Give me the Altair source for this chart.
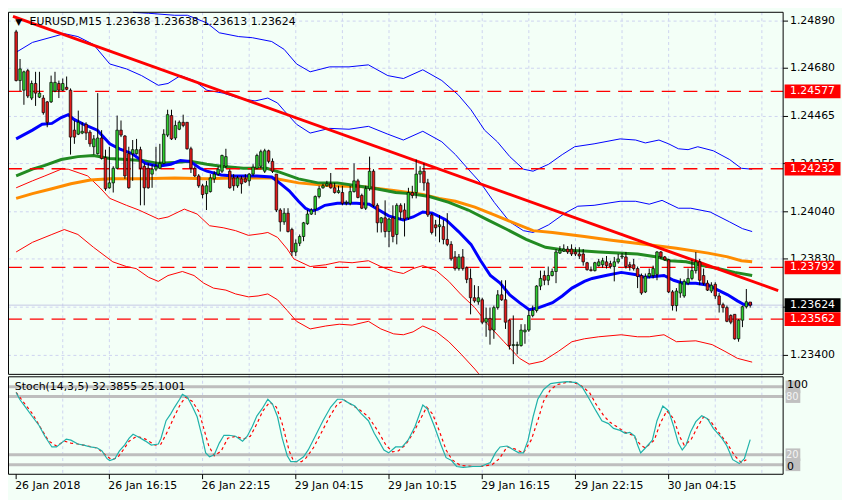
import altair as alt
import pandas as pd

# ---------------- candles (EURUSD M15) ----------------
opens = [
1.24842,1.24625,1.24582,1.24669,1.24547,1.24612,1.24551,1.24547,1.24530,1.24530,
1.24578,1.24612,1.24582,1.24595,1.24582,1.24404,1.24386,1.24391,1.24430,1.24395,
1.24330,1.24299,1.24369,1.24282,1.24147,1.24169,1.24234,1.24404,1.24378,1.24299,
1.24299,1.24299,1.24317,1.24243,1.24234,1.24208,1.24230,1.24234,1.24256,1.24382,
1.24469,1.24369,1.24408,1.24439,1.24439,1.24321,1.24234,1.24200,1.24156,1.24121,
1.24130,1.24187,1.24208,1.24221,1.24243,1.24221,1.24191,1.24156,1.24187,1.24187,
1.24178,1.24208,1.24234,1.24243,1.24221,1.24312,1.24265,1.24208,1.24048,1.23995,
1.24034,1.23961,1.23861,1.23900,1.23930,1.23987,1.24030,1.24052,1.24108,1.24147,
1.24156,1.24165,1.24147,1.24126,1.24126,1.24078,1.24078,1.24130,1.24178,1.24113,
1.24056,1.24143,1.24221,1.24069,1.23991,1.24013,1.23952,1.24013,1.23939,1.24069,
1.24048,1.24013,1.24126,1.24126,1.24208,1.24221,1.24169,1.24026,1.23982,1.23974,
1.23974,1.23917,1.23895,1.23839,1.23787,1.23839,1.23791,1.23743,1.23657,1.23639,
1.23648,1.23548,1.23565,1.23513,1.23613,1.23670,1.23648,1.23557,1.23444,1.23444,
1.23444,1.23505,1.23513,1.23578,1.23600,1.23709,1.23756,1.23735,1.23756,1.23774,
1.23856,1.23865,1.23874,1.23874,1.23861,1.23852,1.23852,1.23813,1.23782,1.23778,
1.23800,1.23804,1.23817,1.23809,1.23796,1.23817,1.23839,1.23839,1.23804,1.23804,
1.23787,1.23756,1.23683,1.23752,1.23756,1.23761,1.23861,1.23839,1.23826,1.23683,
1.23622,1.23678,1.23665,1.23722,1.23743,1.23778,1.23817,1.23756,1.23722,1.23687,
1.23717,1.23665,1.23626,1.23613,1.23578,1.23583,1.23474,1.23557,1.23617,1.23638]
highs = [
1.24851,1.24721,1.24669,1.24677,1.24625,1.24664,1.24664,1.24560,1.24534,1.24647,
1.24664,1.24625,1.24634,1.24643,1.24590,1.24447,1.24491,1.24439,1.24439,1.24404,
1.24382,1.24569,1.24404,1.24317,1.24330,1.24243,1.24469,1.24447,1.24382,1.24330,
1.24360,1.24365,1.24330,1.24256,1.24256,1.24252,1.24330,1.24343,1.24408,1.24495,
1.24495,1.24447,1.24447,1.24473,1.24439,1.24330,1.24243,1.24208,1.24165,1.24178,
1.24208,1.24221,1.24243,1.24295,1.24321,1.24230,1.24208,1.24200,1.24200,1.24208,
1.24213,1.24252,1.24299,1.24317,1.24321,1.24317,1.24278,1.24208,1.24056,1.24056,
1.24056,1.23969,1.23917,1.23939,1.23995,1.24048,1.24056,1.24113,1.24156,1.24165,
1.24178,1.24213,1.24169,1.24156,1.24156,1.24091,1.24156,1.24256,1.24187,1.24121,
1.24156,1.24286,1.24230,1.24078,1.24017,1.24091,1.24013,1.24069,1.24078,1.24078,
1.24078,1.24147,1.24156,1.24273,1.24243,1.24256,1.24187,1.24034,1.24004,1.24026,
1.24004,1.24034,1.23909,1.23865,1.23852,1.23874,1.23796,1.23787,1.23713,1.23709,
1.23657,1.23613,1.23613,1.23622,1.23691,1.23735,1.23735,1.23561,1.23578,1.23461,
1.23539,1.23539,1.23604,1.23622,1.23713,1.23778,1.23778,1.23796,1.23787,1.23874,
1.23887,1.23895,1.23887,1.23895,1.23882,1.23882,1.23874,1.23817,1.23796,1.23817,
1.23830,1.23835,1.23843,1.23822,1.23839,1.23852,1.23856,1.23861,1.23817,1.23830,
1.23796,1.23765,1.23765,1.23787,1.23800,1.23865,1.23865,1.23843,1.23830,1.23691,
1.23700,1.23743,1.23739,1.23787,1.23826,1.23861,1.23830,1.23787,1.23735,1.23726,
1.23726,1.23678,1.23635,1.23622,1.23583,1.23583,1.23561,1.23622,1.23696,1.23638]
lows = [
1.24621,1.24578,1.24517,1.24547,1.24538,1.24512,1.24547,1.24473,1.24417,1.24525,
1.24573,1.24547,1.24578,1.24582,1.24295,1.24343,1.24382,1.24386,1.24360,1.24330,
1.24295,1.24295,1.24273,1.24134,1.24143,1.24126,1.24230,1.24373,1.24187,1.24143,
1.24178,1.24295,1.24069,1.24069,1.24143,1.24147,1.24221,1.24230,1.24252,1.24373,
1.24360,1.24360,1.24404,1.24417,1.24317,1.24213,1.24195,1.24147,1.24100,1.24048,
1.24126,1.24169,1.24200,1.24213,1.24234,1.24143,1.24134,1.24147,1.24121,1.24169,
1.24156,1.24200,1.24230,1.24234,1.24213,1.24256,1.24213,1.24039,1.23952,1.23982,
1.23948,1.23843,1.23843,1.23887,1.23909,1.23982,1.24026,1.24026,1.24100,1.24143,
1.24152,1.24143,1.24121,1.24121,1.24069,1.24069,1.24069,1.24126,1.24100,1.24052,
1.24048,1.24134,1.24061,1.23948,1.23948,1.23926,1.23882,1.23904,1.23895,1.24004,
1.23930,1.24004,1.24100,1.24100,1.24169,1.24134,1.24017,1.23939,1.23930,1.23904,
1.23895,1.23887,1.23822,1.23778,1.23778,1.23778,1.23722,1.23583,1.23635,1.23626,
1.23539,1.23483,1.23448,1.23474,1.23604,1.23643,1.23518,1.23426,1.23361,1.23405,
1.23439,1.23452,1.23505,1.23570,1.23591,1.23691,1.23713,1.23713,1.23752,1.23722,
1.23852,1.23861,1.23852,1.23843,1.23843,1.23830,1.23800,1.23778,1.23774,1.23774,
1.23796,1.23791,1.23787,1.23787,1.23730,1.23809,1.23830,1.23787,1.23778,1.23778,
1.23700,1.23670,1.23678,1.23743,1.23743,1.23735,1.23830,1.23822,1.23678,1.23600,
1.23596,1.23657,1.23657,1.23713,1.23735,1.23765,1.23713,1.23713,1.23687,1.23678,
1.23652,1.23591,1.23591,1.23548,1.23539,1.23470,1.23461,1.23526,1.23609,1.23613]
closes = [
1.24625,1.24677,1.24664,1.24556,1.24612,1.24569,1.24569,1.24482,1.24439,1.24617,
1.24617,1.24582,1.24612,1.24586,1.24373,1.24373,1.24439,1.24399,1.24391,1.24343,
1.24365,1.24369,1.24278,1.24143,1.24169,1.24234,1.24404,1.24382,1.24200,1.24147,
1.24317,1.24317,1.24234,1.24147,1.24147,1.24230,1.24243,1.24256,1.24386,1.24473,
1.24365,1.24425,1.24439,1.24425,1.24321,1.24234,1.24200,1.24156,1.24117,1.24156,
1.24191,1.24208,1.24230,1.24291,1.24286,1.24147,1.24156,1.24191,1.24165,1.24173,
1.24208,1.24239,1.24291,1.24308,1.24312,1.24265,1.24221,1.24048,1.23995,1.24034,
1.23952,1.23861,1.23900,1.23930,1.23991,1.24030,1.24048,1.24108,1.24143,1.24156,
1.24165,1.24147,1.24126,1.24134,1.24078,1.24082,1.24130,1.24178,1.24104,1.24056,
1.24143,1.24221,1.24069,1.23991,1.24013,1.23952,1.24008,1.23930,1.24069,1.24039,
1.24008,1.24126,1.24113,1.24208,1.24221,1.24169,1.24026,1.23948,1.23969,1.23982,
1.23917,1.23895,1.23830,1.23787,1.23839,1.23787,1.23739,1.23657,1.23643,1.23657,
1.23548,1.23565,1.23513,1.23613,1.23670,1.23648,1.23548,1.23444,1.23448,1.23448,
1.23513,1.23513,1.23578,1.23600,1.23709,1.23743,1.23735,1.23756,1.23774,1.23861,
1.23869,1.23874,1.23861,1.23852,1.23852,1.23843,1.23817,1.23782,1.23778,1.23813,
1.23817,1.23822,1.23800,1.23796,1.23817,1.23830,1.23843,1.23796,1.23796,1.23787,
1.23752,1.23678,1.23752,1.23765,1.23787,1.23861,1.23839,1.23826,1.23683,1.23622,
1.23687,1.23722,1.23730,1.23743,1.23778,1.23817,1.23735,1.23722,1.23691,1.23713,
1.23665,1.23626,1.23613,1.23552,1.23548,1.23474,1.23557,1.23617,1.23639,1.23624]

# ---------------- indicator lines (bar index, price) ----------------
blue_i = [0,4.2,6.7,9.2,11.6,13.4,14.9,17.4,20.9,24.1,26.6,29.9,33.3,36.6,39.8,42.3,44.8,47.3,49.1,52.8,
          56.0,62.0,65.8,67.8,70.3,72.7,74.5,76.0,77.7,79.5,82.7,87.7,90.9,93.4,95.9,97.7,99.7,102.2,104.7,107.2,
          110.7,113.9,117.1,119.6,122.1,124.6,127.1,129.6,132.1,134.6,138.1,140.6,143.1,146.3,148.3,151.8,155.8,159.3,161.8,164.3,
          166.8,169.3,171.7,175.0,178.2,180.7,183.2,185.7,187.5,189.5]
blue_p = [1.24365,1.24404,1.24430,1.24434,1.24460,1.24473,1.24452,1.24430,1.24404,1.24343,1.24321,1.24299,1.24256,1.24243,1.24252,
          1.24269,1.24265,1.24234,1.24221,1.24204,1.24200,1.24200,1.24195,1.24169,1.24134,1.24087,1.24056,1.24043,1.24052,1.24069,
          1.24078,1.24078,1.24074,1.24048,1.24022,1.24013,1.24004,1.24017,1.24039,1.24034,1.24004,1.23952,1.23895,1.23822,1.23756,
          1.23722,1.23670,1.23635,1.23604,1.23613,1.23635,1.23665,1.23700,1.23730,1.23743,1.23756,1.23770,1.23761,1.23748,1.23752,
          1.23756,1.23735,1.23722,1.23722,1.23713,1.23691,1.23670,1.23643,1.23626,1.23630]
green_i = [0,4.2,7.4,11.6,15.9,19.9,24.1,28.4,32.4,36.6,40.8,44.8,49.1,52.8,58.5,64.5,67.8,72.7,77.7,82.7,
           87.7,92.7,97.7,101.4,106.4,111.4,116.4,121.4,126.4,131.3,136.3,141.3,146.3,150.0,155.0,160.0,165.0,168.3,172.5,176.7,
           180.7,185.0,189.5]
green_p = [1.24200,1.24230,1.24247,1.24273,1.24286,1.24291,1.24278,1.24273,1.24269,1.24256,1.24260,1.24265,1.24252,1.24243,1.24234,
           1.24234,1.24217,1.24187,1.24169,1.24169,1.24156,1.24143,1.24126,1.24121,1.24108,1.24082,1.24048,1.24004,1.23961,1.23917,
           1.23882,1.23869,1.23865,1.23861,1.23856,1.23852,1.23839,1.23822,1.23817,1.23800,1.23787,1.23770,1.23756]
orange_i = [0,4.2,9.2,14.1,19.1,24.1,32.3,40.8,49.1,56.0,66.0,72.7,80.9,89.4,97.7,104.7,108.9,113.1,118.1,123.1,
            128.1,133.1,138.1,146.3,153.3,161.8,170.0,178.2,183.2,186.7,189.5]
orange_p = [1.24100,1.24121,1.24143,1.24165,1.24182,1.24187,1.24187,1.24191,1.24187,1.24191,1.24191,1.24169,1.24156,1.24152,1.24134,
            1.24117,1.24100,1.24087,1.24061,1.24026,1.23991,1.23956,1.23948,1.23930,1.23913,1.23895,1.23878,1.23856,1.23839,1.23822,1.23817]
bandA_i = [0,4.2,12.4,15.9,19.9,24.1,28.4,32.3,36.6,39.1,42.3,45.8,49.1,53.3,57.3,61.5,64.8,67.3,69.0,72.2,
           75.7,80.7,85.7,90.7,95.7,99.7,104.7,109.6,113.1,116.4,119.6,123.1,127.1,130.6,133.1,137.1,141.3,144.6,148.8,155.5,
           159.5,163.0,166.3,170.5,173.7,178.7,183.7,187.0,189.5]
bandA_p = [1.24751,1.24795,1.24834,1.24821,1.24786,1.24699,1.24677,1.24647,1.24604,1.24612,1.24647,1.24625,1.24582,1.24569,1.24547,
           1.24534,1.24547,1.24525,1.24491,1.24430,1.24391,1.24412,1.24408,1.24421,1.24386,1.24360,1.24399,1.24352,1.24295,1.24230,
           1.24169,1.24082,1.23995,1.23956,1.23948,1.23982,1.24034,1.24065,1.24069,1.24087,1.24087,1.24074,1.24091,1.24056,1.24056,
           1.24039,1.23995,1.23965,1.23952]
bandB_i = [30.1,34.1,40.8,44.1,49.1,52.3,57.3,60.8,65.8,69.0,72.2,75.7,80.7,85.7,90.7,95.7,99.7,104.7,109.6,113.9,
           117.1,120.6,123.9,127.1,130.6,133.1,137.1,140.6,143.8,148.8,155.5,159.5,162.0,165.5,168.0,170.5,173.0,175.5,179.5,183.7,
           186.7,189.5]
bandB_p = [1.24929,1.24925,1.24916,1.24916,1.24882,1.24838,1.24821,1.24816,1.24799,1.24764,1.24699,1.24664,1.24686,1.24686,1.24695,
           1.24647,1.24634,1.24673,1.24625,1.24560,1.24495,1.24404,1.24352,1.24286,1.24230,1.24221,1.24252,1.24295,1.24330,1.24343,
           1.24365,1.24360,1.24347,1.24360,1.24343,1.24321,1.24317,1.24330,1.24312,1.24273,1.24234,1.24230]
bandC_i = [0,4.2,7.4,11.6,13.4,18.4,21.6,24.1,28.4,31.6,36.6,39.1,43.3,46.6,49.8,53.3,56.5,59.8,63.3,64.8,
           67.3,69.8,71.5,75.7,79.7,83.2,86.5,90.7,93.9,97.2,99.7,102.2,104.7,108.2,111.4,114.6,118.1,121.4,125.6,129.6,
           132.1,135.6,139.6,143.1,146.3,150.0,155.8,160.0,163.0,166.8,170.0,175.0,179.2,182.5,185.7,189.5]
bandC_p = [1.24147,1.24178,1.24200,1.24230,1.24230,1.24200,1.24147,1.24100,1.24069,1.24048,1.24008,1.24017,1.24052,1.24030,1.23978,
           1.23969,1.23956,1.23935,1.23943,1.23948,1.23926,1.23874,1.23830,1.23796,1.23804,1.23817,1.23813,1.23822,1.23796,1.23774,
           1.23765,1.23787,1.23800,1.23778,1.23730,1.23670,1.23613,1.23539,1.23461,1.23387,1.23361,1.23374,1.23418,1.23461,1.23474,
           1.23483,1.23492,1.23483,1.23483,1.23492,1.23461,1.23465,1.23448,1.23418,1.23387,1.23370]
bandD_i = [0,4.2,9.2,12.4,15.9,19.9,24.9,28.4,30.9,34.1,36.6,39.1,42.8,45.8,48.3,50.8,54.0,56.5,59.8,62.3,
           64.8,67.3,69.8,72.2,75.7,79.7,83.2,86.5,90.7,93.9,97.2,99.7,102.2,104.7,108.2,111.4,114.6,118.1,119.1]
bandD_p = [1.23861,1.23904,1.23939,1.23961,1.23939,1.23882,1.23817,1.23796,1.23787,1.23748,1.23730,1.23756,1.23774,1.23756,1.23722,
           1.23700,1.23691,1.23674,1.23661,1.23665,1.23674,1.23648,1.23600,1.23552,1.23518,1.23531,1.23539,1.23535,1.23552,1.23518,
           1.23496,1.23492,1.23505,1.23531,1.23505,1.23461,1.23405,1.23339,1.23318]
trend_i = [-0.82, 196.2]
trend_p = [1.24911, 1.23689]
level_prices = [1.24577, 1.24232, 1.23792, 1.23562]
bid_price = 1.23624

# ---------------- stochastic ----------------
k_i = [0,0.9,2.4,4.2,5.9,7.4,9.2,10.4,11.6,12.9,14.1,15.9,17.4,19.1,20.9,22.1,23.4,24.1,25.4,26.6,
       27.9,29.1,30.1,31.6,33.3,34.8,36.6,37.3,38.6,39.8,40.8,42.1,42.8,44.1,45.3,46.6,47.8,48.8,49.8,51.0,
       52.3,53.5,54.8,56.5,58.3,59.5,60.8,62.0,63.3,64.8,66.0,67.3,68.5,69.8,70.7,72.2,74.0,75.2,77.0,79.0,
       81.0,82.7,84.0,85.7,87.2,88.9,90.7,92.2,93.4,94.7,95.9,97.7,99.4,100.9,102.7,104.7,105.9,107.7,109.4,110.7,
       112.1,113.4,115.1,117.6,119.6,122.1,123.4,124.6,126.4,128.1,129.4,130.6,131.8,133.1,134.3,135.8,137.6,139.3,141.8,144.3,
       145.8,147.6,149.3,150.8,152.5,153.8,155.5,156.8,158.0,159.3,160.0,160.8,162.0,163.8,165.0,166.5,168.0,169.3,170.5,171.5,
       172.5,173.7,175.0,176.5,178.0,179.5,181.7,183.0,184.5,186.2,187.5,189.0]
k_v = [87.5,79.5,70.4,59.1,48.9,36.4,23.9,23.9,28.4,33.0,31.8,27.3,26.1,23.9,22.7,19.3,10.2,8.0,10.2,19.3,
       26.1,34.1,38.6,35.2,30.7,26.1,27.3,34.1,54.5,62.5,70.4,79.5,85.2,81.8,71.6,59.1,37.5,17.0,12.5,14.8,
       28.4,37.5,37.5,36.4,30.7,36.4,47.7,60.2,68.2,79.5,73.8,59.1,34.1,13.6,6.8,6.8,12.5,20.4,36.4,54.5,
       70.4,79.5,79.5,75.0,71.6,62.5,54.5,39.8,30.7,20.4,17.0,23.9,23.9,31.8,47.7,72.7,68.2,47.7,26.1,11.4,
       8.0,1.1,0.0,1.1,1.1,5.7,17.0,23.9,25.0,20.4,17.0,17.0,31.8,59.1,79.5,90.9,97.7,98.9,100.0,98.9,
       93.2,79.5,65.9,54.5,51.1,45.5,43.2,39.8,40.9,36.4,26.1,17.0,22.7,31.8,54.5,71.6,65.9,47.7,28.4,20.4,
       26.1,42.0,53.4,60.2,56.8,45.5,34.1,25.0,9.1,4.5,10.2,32.4]
d_i = [0,1.7,4.2,6.7,8.4,10.4,12.4,14.1,15.9,18.4,20.9,22.9,24.6,26.1,27.4,29.1,31.1,33.3,35.8,37.3,
       39.1,40.8,42.3,43.6,45.3,47.1,48.3,49.6,51.0,52.8,54.5,56.5,58.5,60.3,62.0,63.5,65.3,67.0,68.5,70.3,
       71.5,73.5,74.7,76.5,78.5,80.7,82.7,84.5,86.5,88.5,90.7,93.2,95.2,96.9,98.4,100.2,102.2,104.4,105.7,107.2,
       108.9,110.7,112.2,114.4,117.6,119.6,122.6,124.4,126.4,128.4,130.6,132.6,134.3,135.8,137.6,139.3,142.6,145.1,147.6,149.3,
       151.3,153.0,155.0,156.8,158.8,160.8,162.0,164.3,165.8,167.5,169.3,170.8,172.0,173.7,175.5,177.0,178.7,180.7,183.0,185.0,
       186.7,188.0]
d_v = [87.5,77.3,62.5,43.2,30.7,25.0,30.7,28.4,27.3,25.0,22.7,14.8,9.1,11.4,19.3,30.7,36.4,33.0,26.1,27.3,
       43.2,60.2,73.8,81.8,77.3,64.8,45.5,25.0,13.6,19.3,34.1,36.4,33.0,36.4,51.1,65.9,76.1,70.4,51.1,19.3,
       6.8,6.8,11.4,22.7,39.8,59.1,73.8,78.4,72.7,67.0,59.1,42.0,26.1,18.2,19.3,26.1,39.8,59.1,70.4,62.5,
       43.2,20.4,9.1,2.3,1.1,1.1,3.4,10.2,23.9,21.6,17.0,31.8,54.5,77.3,90.9,96.6,100.0,96.6,87.5,73.8,
       60.2,52.3,46.6,40.9,37.5,26.1,22.7,31.8,51.1,65.9,56.8,36.4,26.1,31.8,47.7,59.1,54.5,42.0,28.4,13.6,
       5.7,9.1]
stoch_levels = [94.0, 82.6, 14.8, 3.1]
stoch_level_text = ["", "80", "20", ""]
stoch_scale_vals = [96.0, 0.0]
stoch_scale_text = ["100", "0"]

# ---------------- axes text ----------------
price_ticks = [1.24890, 1.24680, 1.24465, 1.24255, 1.24040, 1.23830, 1.23615, 1.23400]
price_labels = ["1.24890", "1.24680", "1.24465", "1.24255", "1.24040", "1.23830", "", "1.23400"]
grid_idx = [12, 24, 36, 48, 60, 72, 84, 96, 108, 120, 132, 144, 156, 168, 180, 192]
time_idx = [0, 24, 48, 72, 96, 120, 144, 168]
time_text = ["26 Jan 2018", "26 Jan 16:15", "26 Jan 22:15", "29 Jan 04:15",
             "29 Jan 10:15", "29 Jan 16:15", "29 Jan 22:15", "30 Jan 04:15"]
title_text = "EURUSD,M15  1.23638 1.23638 1.23613 1.23624"
stoch_title = "Stoch(14,3,5) 32.3855 25.1001"

# ---------------- layout ----------------
W, H = 842, 492
SX, SY = W / 850, H / 500
def px(v): return v * SX
def py(v): return v * SY
XR = px(790)
FONT = "DejaVu Sans"
BG = "#F3FFF7"
GRID = "#CDD3F0"

xs = alt.Scale(domain=[-0.823, 196.2], range=[0, XR], nice=False, zero=False)
ys = alt.Scale(domain=[1.233133, 1.249293], range=[py(374), py(2)], nice=False, zero=False)
ss = alt.Scale(domain=[0, 100], range=[py(469), py(381)], nice=False, zero=False)

def X(f="i"):
    return alt.X(f, type="quantitative", scale=xs, axis=None)
def Y(f):
    return alt.Y(f, type="quantitative", scale=ys, axis=None)
def S(f):
    return alt.Y(f, type="quantitative", scale=ss, axis=None)

one = pd.DataFrame({"k": [0]})
layers = []

# grid
tick_df = pd.DataFrame({"p": price_ticks, "t": price_labels})
layers.append(alt.Chart(tick_df).mark_rule(color=GRID, strokeDash=[3, 3], strokeWidth=1)
              .encode(y=Y("p"), x=alt.value(0), x2=alt.value(XR)))
layers.append(alt.Chart(pd.DataFrame({"i": grid_idx})).mark_rule(color=GRID, strokeDash=[3, 3], strokeWidth=1)
              .encode(x=X(), y=alt.value(py(2)), y2=alt.value(py(476))))
# bid line
layers.append(alt.Chart(pd.DataFrame({"p": [bid_price]})).mark_rule(color="#C4C8E4", strokeWidth=1)
              .encode(y=Y("p"), x=alt.value(0), x2=alt.value(XR)))

def line(ii, pp, color, width, dash=None):
    n = min(len(ii), len(pp))
    df = pd.DataFrame({"i": ii[:n], "p": pp[:n]})
    kw = dict(color=color, strokeWidth=width)
    if dash:
        kw["strokeDash"] = dash
    return alt.Chart(df).mark_line(**kw).encode(x=X(), y=Y("p"))

layers += [
    line(bandA_i, bandA_p, "#0000FF", 1),
    line(bandB_i, bandB_p, "#0000FF", 1),
    line(bandC_i, bandC_p, "#FF0000", 1),
    line(bandD_i, bandD_p, "#FF0000", 1),
    line(orange_i, orange_p, "#FF8C00", 3),
    line(green_i, green_p, "#228B22", 3),
    line(blue_i, blue_p, "#0000FF", 3),
]
layers.append(alt.Chart(pd.DataFrame({"p": level_prices})).mark_rule(color="#FF0000", strokeWidth=1.3, strokeDash=[14, 8])
              .encode(y=Y("p"), x=alt.value(0), x2=alt.value(XR)))
layers.append(line(trend_i, trend_p, "#FF0000", 3))

# candles
n = min(len(opens), len(highs), len(lows), len(closes))
cdf = pd.DataFrame({"i": list(range(n)), "o": opens[:n], "h": highs[:n], "l": lows[:n], "c": closes[:n]})
cdf["dir"] = ["up" if c >= o else "dn" for o, c in zip(cdf["o"], cdf["c"])]
layers.append(alt.Chart(cdf).mark_rule(color="black", strokeWidth=1).encode(x=X(), y=Y("l"), y2="h"))
layers.append(alt.Chart(cdf).mark_bar(size=2.6, stroke="black", strokeWidth=0.7, orient="vertical")
              .encode(x=X(), y=Y("o"), y2="c",
                      color=alt.Color("dir:N", scale=alt.Scale(domain=["up", "dn"], range=["#2ECC2E", "#E31A1A"]), legend=None)))

# stochastic
lev_df = pd.DataFrame({"v": stoch_levels, "t": stoch_level_text})
layers.append(alt.Chart(lev_df).mark_rule(color="#BEBEBE", strokeWidth=3)
              .encode(y=S("v"), x=alt.value(0), x2=alt.value(XR)))
kdf = pd.DataFrame({"i": k_i[:min(len(k_i), len(k_v))], "v": k_v[:min(len(k_i), len(k_v))]})
ddf = pd.DataFrame({"i": d_i[:min(len(d_i), len(d_v))], "v": d_v[:min(len(d_i), len(d_v))]})
layers.append(alt.Chart(ddf).mark_line(color="#FF0000", strokeWidth=1.2, strokeDash=[3, 3]).encode(x=X(), y=S("v")))
layers.append(alt.Chart(kdf).mark_line(color="#20B2AA", strokeWidth=1.2).encode(x=X(), y=S("v")))

# frames
layers.append(alt.Chart(one).mark_rect(fill="transparent", stroke="black", strokeWidth=1)
              .encode(x=alt.value(0.5), x2=alt.value(XR), y=alt.value(py(2)), y2=alt.value(py(373.5))))
layers.append(alt.Chart(one).mark_rect(fill="transparent", stroke="black", strokeWidth=1)
              .encode(x=alt.value(0.5), x2=alt.value(XR), y=alt.value(py(376)), y2=alt.value(py(476))))

# right price axis
layers.append(alt.Chart(tick_df).mark_rule(color="black").encode(y=Y("p"), x=alt.value(XR), x2=alt.value(px(795))))
layers.append(alt.Chart(tick_df).mark_text(align="left", baseline="middle", font=FONT, fontSize=11, color="black")
              .encode(y=Y("p"), x=alt.value(px(797)), text="t:N"))
red_df = pd.DataFrame({"p": level_prices, "t": [f"{p:.5f}" for p in level_prices]})
bid_df = pd.DataFrame({"p": [bid_price], "t": [f"{bid_price:.5f}"]})
layers.append(alt.Chart(red_df).mark_tick(orient="horizontal", size=px(57), thickness=py(14), color="#FF0000", opacity=1)
              .encode(y=Y("p"), x=alt.value(px(820))))
layers.append(alt.Chart(bid_df).mark_tick(orient="horizontal", size=px(57), thickness=py(14), color="#000000", opacity=1)
              .encode(y=Y("p"), x=alt.value(px(820))))
layers.append(alt.Chart(red_df).mark_text(align="left", baseline="middle", font=FONT, fontSize=11, color="white")
              .encode(y=Y("p"), x=alt.value(px(797)), text="t:N"))
layers.append(alt.Chart(bid_df).mark_text(align="left", baseline="middle", font=FONT, fontSize=11, color="white")
              .encode(y=Y("p"), x=alt.value(px(797)), text="t:N"))

# stochastic right labels
layers.append(alt.Chart(lev_df).mark_tick(orient="horizontal", size=px(15), thickness=py(13), color="#C0C0C0", opacity=1)
              .encode(y=S("v"), x=alt.value(px(800))))
layers.append(alt.Chart(lev_df).mark_text(align="left", baseline="middle", font=FONT, fontSize=10, color="#F4F4F4")
              .encode(y=S("v"), x=alt.value(px(793)), text="t:N"))
sc_df = pd.DataFrame({"v": stoch_scale_vals, "t": stoch_scale_text})
layers.append(alt.Chart(sc_df).mark_text(align="left", baseline="middle", font=FONT, fontSize=11, color="black")
              .encode(y=S("v"), x=alt.value(px(794)), text="t:N"))

# time axis
tdf = pd.DataFrame({"i": time_idx, "t": time_text})
layers.append(alt.Chart(tdf).mark_rule(color="black", strokeWidth=1)
              .encode(x=X(), y=alt.value(py(476)), y2=alt.value(py(481))))
layers.append(alt.Chart(tdf).mark_text(align="left", baseline="middle", font=FONT, fontSize=11, color="black", dx=-1)
              .encode(x=X(), y=alt.value(py(488)), text="t:N"))

# titles
layers.append(alt.Chart(one).mark_text(align="center", baseline="middle", font=FONT, fontSize=9, color="black", text="▼")
              .encode(x=alt.value(px(11)), y=alt.value(py(11.5))))
layers.append(alt.Chart(one).mark_text(align="left", baseline="middle", font=FONT, fontSize=11, color="black", text=title_text)
              .encode(x=alt.value(px(22)), y=alt.value(py(12))))
layers.append(alt.Chart(one).mark_text(align="left", baseline="middle", font=FONT, fontSize=11, color="black", text=stoch_title)
              .encode(x=alt.value(px(7)), y=alt.value(py(386.5))))

chart = (alt.layer(*layers)
         .resolve_scale(y="independent")
         .properties(width=W, height=H, background=BG, padding=0, autosize="none")
         .configure_view(stroke=None))

chart.save("out.html", embed_options={"renderer": "svg", "actions": False})
